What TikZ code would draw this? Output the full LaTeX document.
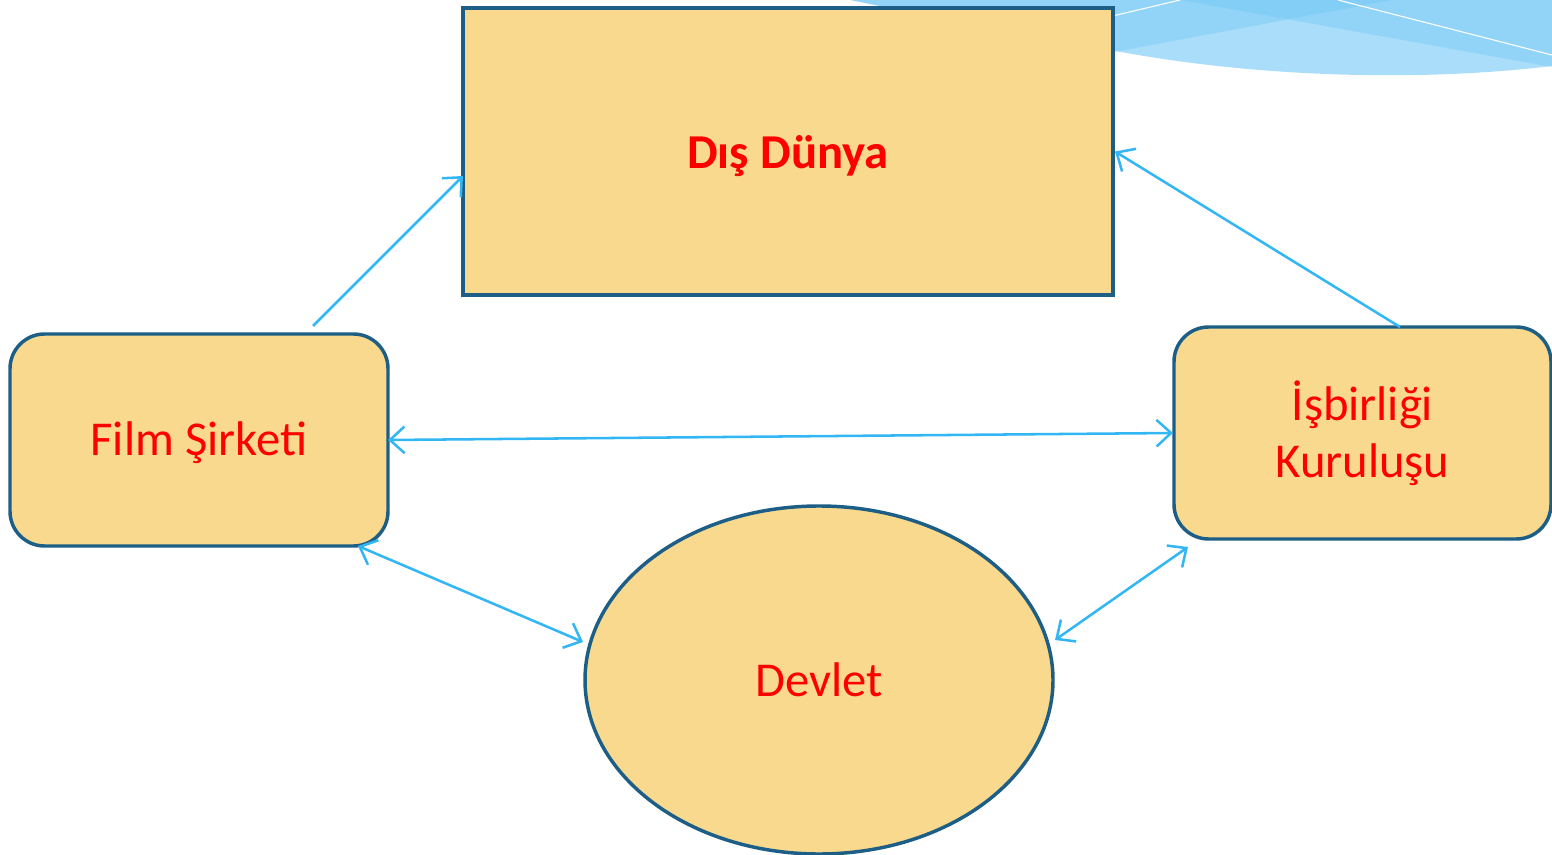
\documentclass[tikz,border=0pt]{standalone}
\usepackage{fontspec}
\setmainfont{Carlito}
\usetikzlibrary{arrows.meta,calc,shapes.geometric}
\definecolor{boxfill}{HTML}{F8D98E}
\definecolor{boxline}{HTML}{1D5E86}
\definecolor{arrowc}{HTML}{33B6F4}
\definecolor{wavea}{HTML}{A9DDF9}
\definecolor{waveb}{HTML}{5EC2F5}
\tikzset{
  box/.style={draw=boxline,fill=boxfill,line width=2.6pt,inner sep=0pt,outer sep=0pt,align=center,text=red,font=\fontsize{36.5}{42.75}\selectfont},
  rbox/.style={box,rectangle,rounded corners=26pt},
  conn/.style={draw=arrowc,line width=1.9pt},
  tip/.tip={Straight Barb[length=11pt,width=20pt,line width=1.9pt]}
}
\begin{document}
\begin{tikzpicture}[x=0.75pt,y=-0.75pt]
\useasboundingbox (0,0) rectangle (1552,855);
% decorative wave top right
\fill[wavea] (850,0) -- (1552,0) -- (1552,66) .. controls (1420,82) and (1250,78) .. (1100,48) -- (900,10) -- cycle;
\fill[waveb,opacity=0.3] (850,0) -- (1392,0) -- (1114,52) -- (900,10) -- cycle;
\fill[waveb,opacity=0.3] (1181,0) -- (1552,0) -- (1552,67) -- cycle;
\draw[white,line width=0.8pt] (1100,19) -- (1180,0);
\draw[white,line width=0.8pt] (1338,0) -- (1552,55);
% nodes
\node[box,rectangle,minimum width=487.5pt,minimum height=215.25pt,
  label={[text=red,font=\fontsize{36.5}{42}\selectfont\bfseries,yshift=-3.5pt]center:Dış Dünya}] (dis) at (788,151.5) {};
\node[rbox,minimum width=283.5pt,minimum height=159pt,
  label={[text=red,font=\fontsize{36.5}{42}\selectfont,yshift=-2pt]center:Film Şirketi}] (film) at (199,440) {};
\node[rbox,minimum width=282.75pt,minimum height=159pt] (isb) at (1362.5,433) {İşbirliği\\Kuruluşu};
\node[box,ellipse,minimum width=351pt,minimum height=261pt] (dev) at (819,680) {Devlet};
% connectors
\draw[conn,-tip] ($(film.north)+(114,-8)$) -- ($(dis.west)+(0,24.5)$);
\draw[conn,-tip] ($(isb.north)+(37.5,0)$) -- ($(dis.east)+(2,0)$);
\draw[conn,tip-tip] (film.east) -- ($(isb.west)+(-1,0)$);
\draw[conn,tip-tip] ($(film.south)+(159,0)$) -- ($(dev.west)+(-2,-38)$);
\draw[conn,tip-tip] ($(dev.east)+(2,-40)$) -- ($(isb.south)+(-174.5,8)$);
\end{tikzpicture}
\end{document}
